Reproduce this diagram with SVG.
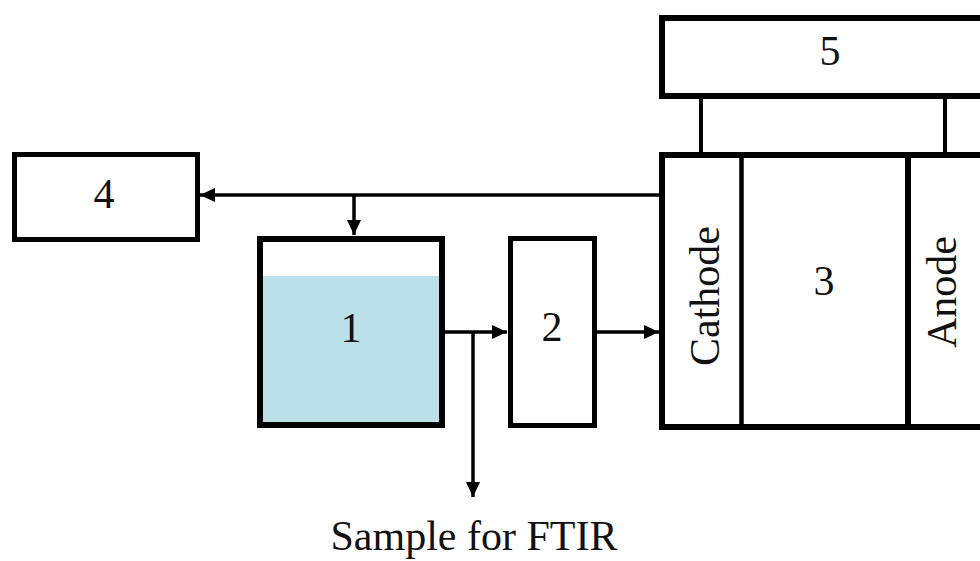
<svg xmlns="http://www.w3.org/2000/svg" width="980" height="561" viewBox="0 0 980 561">
  <style>
    .box { fill: none; stroke: #000; }
    .lbl { font-family: "Liberation Serif", "Times New Roman", serif; font-size: 42px; fill: #111; text-anchor: middle; }
    .wire { stroke: #000; stroke-width: 3.5; fill: none; }
  </style>
  <defs>
    <marker id="arrow" markerUnits="userSpaceOnUse" markerWidth="16" markerHeight="14" refX="15" refY="7" orient="auto">
      <path d="M0,0 L15,7 L0,14 Z" fill="#000"/>
    </marker>
  </defs>
  <rect width="980" height="561" fill="#fff"/>

  <!-- 5: power supply -->
  <g id="node5">
    <rect class="box" x="662" y="18" width="400" height="78" stroke-width="6"/>
    <text class="lbl" x="830" y="65">5</text>
  </g>

  <!-- 3: electrochemical cell with cathode and anode -->
  <g id="node3">
    <rect class="box" x="662" y="155" width="400" height="272" stroke-width="6"/>
    <line x1="741.5" y1="155" x2="741.5" y2="427" stroke="#000" stroke-width="4.5"/>
    <line x1="908" y1="155" x2="908" y2="427" stroke="#000" stroke-width="6"/>
    <text class="lbl" transform="translate(719,296) rotate(-90)">Cathode</text>
    <text class="lbl" x="824" y="295">3</text>
    <text class="lbl" transform="translate(956,292) rotate(-90)">Anode</text>
  </g>

  <!-- 4 -->
  <g id="node4">
    <rect class="box" x="14.5" y="154.5" width="183" height="85" stroke-width="5"/>
    <text class="lbl" x="104" y="208">4</text>
  </g>

  <!-- 1: tank with liquid -->
  <g id="node1">
    <rect x="260" y="276" width="182" height="149" fill="#bce0ea"/>
    <rect class="box" x="260" y="239" width="182" height="186" stroke-width="6"/>
    <text class="lbl" x="351" y="342">1</text>
  </g>

  <!-- 2 -->
  <g id="node2">
    <rect class="box" x="510.5" y="238.5" width="84" height="187" stroke-width="5"/>
    <text class="lbl" x="552" y="341">2</text>
  </g>

  <!-- connectors -->
  <g id="connectors">
    <line x1="701" y1="96" x2="701" y2="155" stroke="#000" stroke-width="4"/>
    <line x1="945" y1="96" x2="945" y2="155" stroke="#000" stroke-width="4"/>
    <line class="wire" x1="660" y1="195" x2="200" y2="195" marker-end="url(#arrow)"/>
    <line class="wire" x1="354" y1="195" x2="354" y2="235" marker-end="url(#arrow)"/>
    <line class="wire" x1="442" y1="332" x2="507" y2="332" marker-end="url(#arrow)"/>
    <line class="wire" x1="473" y1="332" x2="473" y2="497" marker-end="url(#arrow)"/>
    <line class="wire" x1="595" y1="332" x2="659" y2="332" marker-end="url(#arrow)"/>
  </g>

  <text class="lbl" x="474" y="550">Sample for FTIR</text>
</svg>
